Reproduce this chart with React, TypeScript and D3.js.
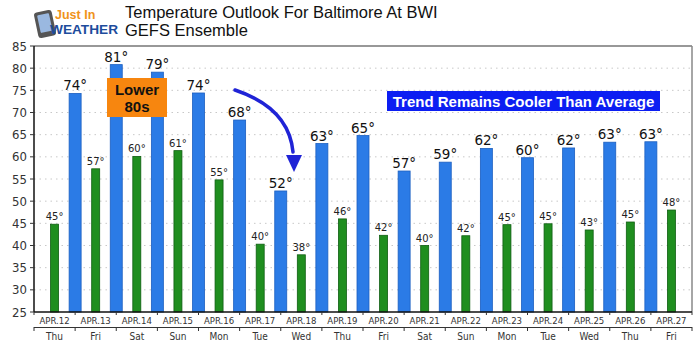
import React from "react";
import * as d3 from "d3";

const dates = ["APR.12","APR.13","APR.14","APR.15","APR.16","APR.17","APR.18","APR.19","APR.20","APR.21","APR.22","APR.23","APR.24","APR.25","APR.26","APR.27"];
const days = ["Thu","Fri","Sat","Sun","Mon","Tue","Wed","Thu","Fri","Sat","Sun","Mon","Tue","Wed","Thu","Fri"];
const lows = [44.8,57.3,60.1,61.4,54.8,40.3,37.9,46.0,42.3,40.0,42.2,44.7,44.9,43.5,45.3,48.0];
const lowLabels = ["45°","57°","60°","61°","55°","40°","38°","46°","42°","40°","42°","45°","45°","43°","45°","48°"];
const highs = [74.3,80.8,79.1,74.4,68.3,52.3,63.0,64.8,56.8,58.8,61.9,59.8,62.0,63.3,63.4];
const highLabels = ["74°","81°","79°","74°","68°","52°","63°","65°","57°","59°","62°","60°","62°","63°","63°"];
const yTicks = [25,30,35,40,45,50,55,60,65,70,75,80,85];

const W = 700, H = 344;
const L = 34, R = 692, T = 46, B = 312;

export default function App() {
  const x = d3.scaleBand<string>().domain(dates).range([L, R]).padding(0);
  const y = d3.scaleLinear().domain([25, 85]).range([B, T]);
  const bw = x.bandwidth();
  const axisFont = "'DejaVu Sans Condensed', 'DejaVu Sans', sans-serif";
  const arrow = d3.path();
  arrow.moveTo(235, 90);
  arrow.quadraticCurveTo(289, 108, 293, 152);
  return (
    <svg width={W} height={H} style={{ position: "absolute", left: 0, top: 0, background: "#fff" }}>
      <rect x={0} y={0} width={W} height={H} fill="#fff" />
      {/* logo */}
      <g>
        <rect x={36} y={11} width={18} height={26} rx={3} fill="#555" transform="rotate(-12 45 24)" />
        <rect x={39} y={14} width={12} height={18} rx={1} fill="#9ab8e0" transform="rotate(-12 45 24)" />
        <text x={55} y={19} fontFamily="'Liberation Sans', Arial, sans-serif" fontWeight="bold" fontSize={12.5} fill="#f0931a">Just In</text>
        <text x={50} y={34} fontFamily="'Liberation Sans', Arial, sans-serif" fontWeight="bold" fontSize={13} fill="#1d4c9c" textLength={68} lengthAdjust="spacingAndGlyphs">WEATHER</text>
      </g>
      <text x={125} y={18} fontFamily="'Liberation Sans', Arial, sans-serif" fontSize={16.5} fill="#111">Temperature Outlook For Baltimore At BWI</text>
      <text x={125} y={36} fontFamily="'Liberation Sans', Arial, sans-serif" fontSize={16.5} fill="#111">GEFS Ensemble</text>

      {/* grid */}
      {yTicks.slice(1, -1).map(t => (
        <line key={"g" + t} x1={L} x2={R} y1={y(t)} y2={y(t)} stroke="#c8c8c8" strokeWidth={1} strokeDasharray="1.5,4" />
      ))}

      {/* low bars */}
      {dates.map((d, i) => {
        const cx = (x(d) as number) + bw / 2;
        return (
          <g key={"l" + d}>
            <rect x={cx - 4} y={y(lows[i])} width={8} height={B - y(lows[i])} fill="#1f8e1f" stroke="#0f5e12" strokeWidth={0.8} />
            <text x={cx} y={y(lows[i]) - 4} textAnchor="middle" fontFamily="'DejaVu Sans', sans-serif" fontSize={10} fill="#222">{lowLabels[i]}</text>
          </g>
        );
      })}
      {/* high bars */}
      {highs.map((v, i) => {
        const cx = (x(dates[i + 1]) as number);
        return (
          <g key={"h" + i}>
            <rect x={cx - 6} y={y(v)} width={12} height={B - y(v)} fill="#2b7be6" stroke="#1c5fc0" strokeWidth={0.8} />
            <text x={cx} y={y(v) - 3} textAnchor="middle" fontFamily="'DejaVu Sans', sans-serif" fontSize={13.5} fill="#111">{highLabels[i]}</text>
          </g>
        );
      })}

      {/* frame */}
      <line x1={L} x2={R} y1={T} y2={T} stroke="#333" strokeWidth={1.2} />
      <line x1={R} x2={R} y1={T} y2={B} stroke="#888" strokeWidth={1.5} />
      <line x1={L} x2={L} y1={T} y2={B} stroke="#111" strokeWidth={1.5} />
      <line x1={L} x2={R} y1={B} y2={B} stroke="#111" strokeWidth={1.5} />

      {/* y axis */}
      {yTicks.map(t => (
        <g key={"y" + t}>
          <line x1={L - 4} x2={L} y1={y(t)} y2={y(t)} stroke="#333" />
          <text x={L - 7} y={y(t) + 4.5} textAnchor="end" fontFamily={axisFont} fontSize={13} fill="#333">{t}</text>
        </g>
      ))}

      {/* x axis */}
      {dates.map((d, i) => {
        const x0 = x(d) as number;
        return (
          <g key={"x" + d}>
            <line x1={x0} x2={x0} y1={B} y2={B + 3} stroke="#333" />
            <text x={x0 + bw / 2} y={B + 12} textAnchor="middle" fontFamily={axisFont} fontSize={9.5} fill="#333">{d}</text>
            <line x1={x0} x2={x0} y1={B + 15} y2={B + 19} stroke="#333" />
            <text x={x0 + bw / 2} y={B + 28} textAnchor="middle" fontFamily={axisFont} fontSize={10} fill="#333">{days[i]}</text>
          </g>
        );
      })}
      <line x1={R} x2={R} y1={B} y2={B + 3} stroke="#333" />
      <line x1={L} x2={R} y1={B + 15.5} y2={B + 15.5} stroke="#333" strokeWidth={1} />
      <line x1={R} x2={R} y1={B + 15} y2={B + 19} stroke="#333" />

      {/* annotations */}
      <rect x={107} y={78} width={60} height={39} fill="#f7860f" />
      <text x={137} y={95} textAnchor="middle" fontFamily="'Liberation Sans', Arial, sans-serif" fontWeight="bold" fontSize={15} fill="#111">Lower</text>
      <text x={137} y={112} textAnchor="middle" fontFamily="'Liberation Sans', Arial, sans-serif" fontWeight="bold" fontSize={15} fill="#111">80s</text>

      <rect x={387} y={91} width={273} height={20} fill="#0c1ef2" />
      <text x={523.5} y={106.5} textAnchor="middle" fontFamily="'Liberation Sans', Arial, sans-serif" fontWeight="bold" fontSize={15} fill="#fff">Trend Remains Cooler Than Average</text>

      <path d={arrow.toString()} fill="none" stroke="#1f23d6" strokeWidth={3.5} strokeLinecap="round" />
      <polygon points="286,155 302,155 294,172" fill="#1f23d6" />
    </svg>
  );
}
